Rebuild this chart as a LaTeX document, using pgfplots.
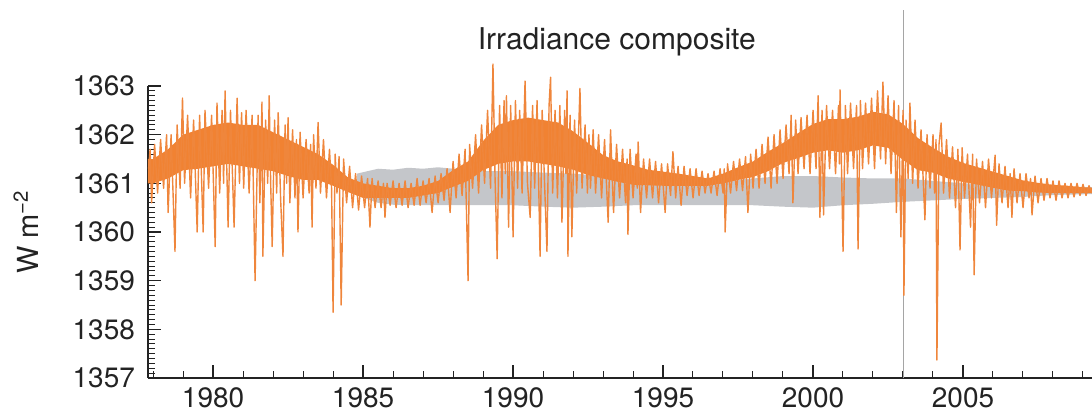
\documentclass[border=0pt]{standalone}
\usepackage{pgfplots}
\pgfplotsset{compat=1.18}
\usepackage{fontspec}
\setmainfont{TeX Gyre Heros}
\definecolor{orng}{RGB}{241,130,50}
\definecolor{orngl}{RGB}{239,134,60}
\definecolor{gband}{RGB}{196,198,202}
\definecolor{vline}{RGB}{165,165,165}
\definecolor{txt}{RGB}{35,35,35}
\begin{document}
\begin{tikzpicture}
\begin{axis}[
 scale only axis, width=472pt, height=146pt,
 xmin=1977.83, xmax=2009.3, ymin=1357, ymax=1363,
 axis x line*=bottom, axis y line*=left,
 clip=false,
 xtick={1980,1985,...,2005}, ytick={1357,1358,...,1363},
 minor xtick={1978,1979,...,2009},
 minor ytick={1357.1,1357.2,...,1362.95},
 tick align=inside,
 major tick length=6.5pt, minor tick length=3.5pt,
 axis line style={line width=0.8pt, txt},
 every major tick/.style={txt, line width=0.6pt},
 every minor tick/.style={txt, line width=0.5pt},
 /pgf/number format/assume math mode=true,
 /pgf/number format/1000 sep={},
 scaled ticks=false,
 ticklabel style={font=\fontsize{14}{16}\selectfont, text=txt},
 yticklabel style={xshift=-3pt},
 xticklabel style={yshift=-1.5pt},
]
\coordinate (bl) at (rel axis cs:0,0);
% vertical marker line
\addplot[vline, line width=0.5pt] coordinates {(2003.03,1357) (2003.03,1364.56)};
% grey band
\addplot[draw=none, fill=gband] coordinates {
(1984.8,1361.2)(1985.5,1361.3)(1986.0,1361.28)(1986.5,1361.32)(1987.0,1361.3)(1987.5,1361.33)(1988.0,1361.3)(1989,1361.25)(1990,1361.25)(1991,1361.22)(1992,1361.2)(1993,1361.15)(1994,1361.12)(1995,1361.1)(1996,1361.05)(1997,1361.05)(1998,1361.1)(1999,1361.15)(2000,1361.15)(2001,1361.12)(2002,1361.1)(2003,1361.1)(2004,1361.05)(2005,1361.0)(2006,1360.98)(2007,1360.95)(2008,1360.93)(2009.3,1360.92)
(2009.3,1360.78)(2008,1360.76)(2007,1360.72)(2006,1360.7)(2005,1360.68)(2004,1360.65)(2003,1360.62)(2002,1360.58)(2001,1360.55)(2000,1360.5)(1999,1360.52)(1998,1360.55)(1997,1360.55)(1996,1360.55)(1995,1360.55)(1994,1360.55)(1993,1360.52)(1992,1360.5)(1991,1360.52)(1990,1360.55)(1989,1360.55)(1988,1360.55)(1987,1360.55)(1986,1360.56)(1985.5,1360.6)(1984.8,1360.75)
};
% orange core
\addplot[draw=none, fill=orng] coordinates {
(1977.83,1361.5)(1978.0,1361.5)(1978.5,1361.7)(1979.0,1362.0)(1979.5,1362.1)(1980.0,1362.2)(1980.5,1362.25)(1981.0,1362.2)(1981.5,1362.2)(1982.0,1362.05)(1982.5,1361.9)(1983.0,1361.75)(1983.5,1361.6)(1984.0,1361.38)(1984.5,1361.12)(1985.0,1361.0)(1985.5,1360.95)(1986.0,1360.9)(1986.5,1360.9)(1987.0,1360.95)(1987.5,1361.05)(1988.0,1361.27)(1988.5,1361.45)(1989.0,1361.87)(1989.5,1362.2)(1990.0,1362.3)(1990.5,1362.35)(1991.0,1362.3)(1991.5,1362.25)(1992.0,1362.07)(1992.5,1361.83)(1993.0,1361.58)(1993.5,1361.45)(1994.0,1361.37)(1994.5,1361.28)(1995.0,1361.24)(1995.5,1361.2)(1996.0,1361.15)(1996.5,1361.1)(1997.0,1361.2)(1997.5,1361.33)(1998.0,1361.45)(1998.5,1361.65)(1999.0,1361.83)(1999.5,1362.03)(2000.0,1362.22)(2000.5,1362.32)(2001.0,1362.32)(2001.5,1362.37)(2002.0,1362.47)(2002.5,1362.42)(2003.0,1362.22)(2003.5,1361.93)(2004.0,1361.73)(2004.5,1361.55)(2005.0,1361.42)(2005.5,1361.33)(2006.0,1361.24)(2006.5,1361.15)(2007.0,1361.06)(2007.5,1361.01)(2008.0,1360.97)(2008.5,1360.95)(2009.0,1360.92)(2009.3,1360.91)
(2009.3,1360.8)(2009.0,1360.8)(2008.5,1360.8)(2008.0,1360.8)(2007.5,1360.81)(2007.0,1360.84)(2006.5,1360.85)(2006.0,1360.91)(2005.5,1360.97)(2005.0,1361.03)(2004.5,1361.1)(2004.0,1361.22)(2003.5,1361.27)(2003.0,1361.48)(2002.5,1361.73)(2002.0,1361.78)(2001.5,1361.68)(2001.0,1361.63)(2000.5,1361.68)(2000.0,1361.63)(1999.5,1361.52)(1999.0,1361.42)(1998.5,1361.25)(1998.0,1361.13)(1997.5,1361.07)(1997.0,1361.0)(1996.5,1360.95)(1996.0,1360.95)(1995.5,1360.95)(1995.0,1360.95)(1994.5,1360.96)(1994.0,1360.97)(1993.5,1361.03)(1993.0,1361.1)(1992.5,1361.17)(1992.0,1361.28)(1991.5,1361.35)(1991.0,1361.4)(1990.5,1361.45)(1990.0,1361.45)(1989.5,1361.4)(1989.0,1361.27)(1988.5,1361.05)(1988.0,1360.93)(1987.5,1360.8)(1987.0,1360.75)(1986.5,1360.7)(1986.0,1360.7)(1985.5,1360.7)(1985.0,1360.7)(1984.5,1360.82)(1984.0,1360.95)(1983.5,1361.07)(1983.0,1361.07)(1982.5,1361.15)(1982.0,1361.25)(1981.5,1361.3)(1981.0,1361.35)(1980.5,1361.4)(1980.0,1361.35)(1979.5,1361.3)(1979.0,1361.27)(1978.5,1361.1)(1978.0,1361.0)(1977.83,1361.0)
};
% orange noisy record
\addplot[orngl, line width=0.7pt, line join=round] coordinates {
(1977.85,1361.3)(1977.9,1361.7)(1977.95,1360.6)(1978.05,1361.8)(1978.15,1360.8)(1978.25,1361.9)(1978.35,1360.9)(1978.45,1362.0)(1978.5,1360.4)(1978.6,1362.0)(1978.73,1359.6)(1978.8,1362.2)(1978.9,1360.9)(1978.98,1362.75)(1979.05,1361.0)(1979.15,1362.4)(1979.25,1360.7)(1979.35,1362.3)(1979.47,1360.0)(1979.55,1362.4)(1979.67,1360.0)(1979.73,1362.5)(1979.85,1360.9)(1979.95,1362.4)(1980.07,1359.7)(1980.13,1362.65)(1980.22,1360.8)(1980.3,1362.5)(1980.35,1361.0)(1980.4,1362.9)(1980.5,1360.1)(1980.58,1362.5)(1980.7,1360.1)(1980.8,1362.75)(1980.88,1361.0)(1980.95,1362.45)(1981.02,1360.9)(1981.1,1362.5)(1981.2,1360.8)(1981.3,1362.4)(1981.4,1359.0)(1981.5,1362.4)(1981.56,1360.6)(1981.63,1362.67)(1981.66,1359.5)(1981.75,1362.3)(1981.82,1361.0)(1981.87,1362.8)(1981.92,1361.0)(1981.97,1359.7)(1982.05,1362.3)(1982.12,1360.8)(1982.17,1362.45)(1982.25,1360.7)(1982.33,1359.5)(1982.4,1362.2)(1982.45,1361.0)(1982.5,1362.35)(1982.56,1360.6)(1982.65,1362.1)(1982.73,1360.7)(1982.78,1361.9)(1982.83,1360.0)(1982.9,1362.05)(1983.0,1360.7)(1983.1,1361.9)(1983.2,1360.8)(1983.25,1361.8)(1983.3,1360.1)(1983.35,1362.0)(1983.43,1360.9)(1983.5,1362.25)(1983.58,1360.8)(1983.68,1361.9)(1983.78,1360.7)(1983.88,1361.7)(1983.95,1360.9)(1984.0,1358.35)(1984.07,1361.6)(1984.13,1360.8)(1984.2,1361.55)(1984.27,1358.5)(1984.35,1361.5)(1984.45,1360.6)(1984.55,1361.35)(1984.65,1360.5)(1984.75,1361.2)(1984.85,1360.45)(1984.95,1361.15)(1985.05,1360.5)(1985.15,1361.1)(1985.23,1360.1)(1985.3,1361.1)(1985.4,1360.5)(1985.5,1361.05)(1985.6,1360.5)(1985.68,1361.0)(1985.73,1360.3)(1985.8,1361.0)(1985.9,1360.55)(1986.0,1361.05)(1986.1,1360.5)(1986.2,1361.0)(1986.3,1360.55)(1986.4,1361.05)(1986.5,1360.5)(1986.6,1361.0)(1986.7,1360.55)(1986.8,1361.1)(1986.9,1360.55)(1987.0,1361.05)(1987.1,1360.6)(1987.2,1361.1)(1987.3,1360.4)(1987.4,1361.15)(1987.5,1360.6)(1987.6,1361.2)(1987.7,1360.65)(1987.8,1361.3)(1987.9,1360.4)(1988.0,1361.45)(1988.1,1360.7)(1988.2,1361.6)(1988.3,1360.75)(1988.4,1361.7)(1988.5,1359.0)(1988.55,1361.8)(1988.65,1360.9)(1988.75,1362.0)(1988.85,1360.8)(1988.95,1362.2)(1989.05,1361.0)(1989.15,1362.5)(1989.25,1360.9)(1989.33,1363.45)(1989.4,1361.1)(1989.47,1359.45)(1989.55,1362.6)(1989.63,1360.7)(1989.7,1362.7)(1989.74,1361.2)(1989.78,1362.8)(1989.85,1360.1)(1989.92,1362.6)(1990.0,1359.9)(1990.08,1362.7)(1990.15,1360.9)(1990.22,1362.5)(1990.3,1360.8)(1990.4,1363.1)(1990.48,1361.0)(1990.57,1360.3)(1990.65,1362.6)(1990.72,1360.9)(1990.8,1362.7)(1990.9,1359.5)(1990.97,1362.5)(1991.05,1361.0)(1991.13,1359.6)(1991.2,1362.6)(1991.25,1363.18)(1991.32,1360.8)(1991.4,1362.5)(1991.48,1360.7)(1991.56,1362.6)(1991.63,1360.2)(1991.72,1362.5)(1991.76,1361.2)(1991.8,1362.9)(1991.83,1359.5)(1991.9,1362.4)(1991.96,1359.9)(1992.05,1362.3)(1992.12,1360.8)(1992.23,1362.95)(1992.3,1360.9)(1992.4,1362.2)(1992.48,1360.8)(1992.53,1362.0)(1992.58,1360.9)(1992.67,1362.1)(1992.75,1360.8)(1992.85,1362.0)(1992.95,1360.7)(1993.05,1361.9)(1993.17,1360.2)(1993.25,1362.1)(1993.35,1360.4)(1993.45,1361.8)(1993.55,1360.7)(1993.65,1361.7)(1993.75,1360.6)(1993.8,1361.5)(1993.83,1359.95)(1993.9,1361.7)(1994.0,1360.7)(1994.1,1361.6)(1994.14,1360.9)(1994.17,1361.85)(1994.25,1360.4)(1994.35,1361.5)(1994.45,1360.7)(1994.55,1361.5)(1994.65,1360.7)(1994.75,1361.45)(1994.85,1360.6)(1994.95,1361.4)(1995.07,1360.4)(1995.15,1361.4)(1995.25,1360.75)(1995.33,1361.65)(1995.42,1360.7)(1995.5,1361.35)(1995.6,1360.55)(1995.7,1361.35)(1995.8,1360.75)(1995.9,1361.3)(1996.0,1360.7)(1996.1,1361.3)(1996.2,1360.75)(1996.3,1361.25)(1996.4,1360.8)(1996.5,1361.2)(1996.6,1360.8)(1996.7,1361.25)(1996.8,1360.75)(1996.9,1361.3)(1997.0,1360.8)(1997.04,1361.3)(1997.07,1360.0)(1997.15,1361.4)(1997.25,1360.8)(1997.35,1361.45)(1997.45,1360.85)(1997.55,1361.5)(1997.65,1360.85)(1997.75,1361.55)(1997.83,1360.4)(1997.92,1361.6)(1998.0,1360.9)(1998.1,1361.7)(1998.2,1360.9)(1998.3,1361.8)(1998.4,1361.0)(1998.5,1361.95)(1998.6,1360.9)(1998.7,1362.0)(1998.8,1361.0)(1998.9,1362.1)(1999.0,1361.1)(1999.1,1362.2)(1999.2,1361.2)(1999.27,1362.4)(1999.33,1360.6)(1999.42,1362.3)(1999.5,1361.2)(1999.6,1362.35)(1999.7,1361.3)(1999.8,1362.4)(1999.9,1361.2)(2000.0,1362.5)(2000.1,1361.3)(2000.17,1362.8)(2000.23,1360.3)(2000.3,1362.5)(2000.35,1360.35)(2000.45,1362.6)(2000.55,1361.3)(2000.65,1362.5)(2000.75,1361.2)(2000.85,1362.6)(2000.88,1361.4)(2000.9,1362.92)(2000.95,1361.3)(2001.0,1359.6)(2001.08,1362.6)(2001.15,1361.2)(2001.25,1362.65)(2001.35,1361.3)(2001.45,1362.6)(2001.5,1359.65)(2001.58,1362.7)(2001.65,1361.3)(2001.75,1362.65)(2001.85,1361.4)(2001.95,1362.75)(2002.05,1361.3)(2002.15,1362.9)(2002.25,1361.5)(2002.33,1363.08)(2002.42,1361.4)(2002.5,1362.8)(2002.6,1361.2)(2002.7,1362.7)(2002.78,1360.4)(2002.85,1362.6)(2002.93,1359.9)(2003.0,1362.5)(2003.03,1358.7)(2003.1,1362.3)(2003.17,1361.1)(2003.23,1362.65)(2003.32,1361.0)(2003.4,1362.3)(2003.5,1360.9)(2003.6,1362.1)(2003.73,1360.25)(2003.8,1362.0)(2003.9,1360.9)(2004.0,1362.0)(2004.05,1360.8)(2004.1,1361.9)(2004.13,1357.37)(2004.2,1361.8)(2004.27,1362.24)(2004.35,1360.8)(2004.45,1361.9)(2004.55,1360.7)(2004.65,1361.75)(2004.75,1360.5)(2004.83,1361.7)(2004.9,1359.63)(2004.97,1361.73)(2005.05,1360.7)(2005.15,1361.6)(2005.25,1360.1)(2005.32,1361.6)(2005.37,1359.12)(2005.45,1361.5)(2005.55,1360.6)(2005.65,1361.45)(2005.75,1360.5)(2005.85,1361.5)(2005.95,1360.7)(2006.07,1361.58)(2006.12,1360.14)(2006.2,1361.4)(2006.3,1360.6)(2006.4,1361.35)(2006.5,1360.5)(2006.57,1361.2)(2006.63,1360.3)(2006.7,1361.3)(2006.8,1360.6)(2006.9,1361.2)(2007.0,1360.5)(2007.1,1361.2)(2007.2,1360.7)(2007.25,1361.1)(2007.3,1360.35)(2007.4,1361.15)(2007.5,1360.6)(2007.6,1361.1)(2007.7,1360.65)(2007.8,1361.1)(2007.9,1360.7)(2008.0,1361.05)(2008.1,1360.65)(2008.2,1361.05)(2008.3,1360.7)(2008.4,1361.0)(2008.5,1360.7)(2008.6,1361.0)(2008.7,1360.72)(2008.8,1361.0)(2008.9,1360.75)(2009.0,1360.98)(2009.1,1360.75)(2009.2,1360.95)(2009.3,1360.8)
};
\node[font=\fontsize{15}{18}\selectfont, text=txt] at (axis cs:1993.46,1363.9) {Irradiance composite};
\node[rotate=90, font=\fontsize{14.5}{17}\selectfont, text=txt] at ([xshift=-61pt]axis cs:1977.83,1360.0) {W m\textsuperscript{−2}};
\end{axis}
\pgfresetboundingbox
\path[use as bounding box] (bl) ++(-74pt,-17pt) rectangle ++(546pt,206pt);
\end{tikzpicture}
\end{document}
